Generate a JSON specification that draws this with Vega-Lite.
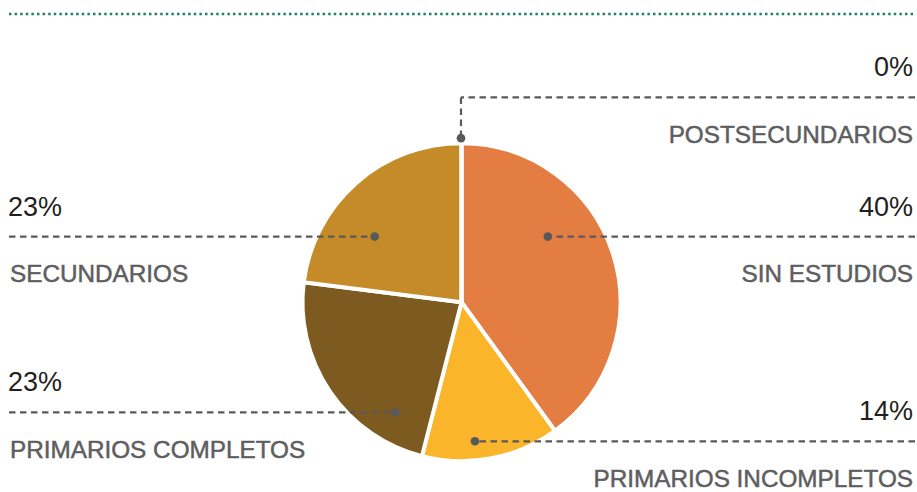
{
  "$schema": "https://vega.github.io/schema/vega-lite/v6.json",
  "width": 917,
  "height": 492,
  "autosize": {"type": "fit", "contains": "padding"},
  "padding": 0,
  "background": "white",
  "config": {
    "view": {"stroke": null},
    "axis": {"disable": true},
    "legend": {"disable": true},
    "text": {"font": "Liberation Sans"}
  },
  "datasets": {
    "slices": [
      {"categoria": "SIN ESTUDIOS", "pct": 40, "orden": 1},
      {"categoria": "PRIMARIOS INCOMPLETOS", "pct": 14, "orden": 2},
      {"categoria": "PRIMARIOS COMPLETOS", "pct": 23, "orden": 3},
      {"categoria": "SECUNDARIOS", "pct": 23, "orden": 4},
      {"categoria": "POSTSECUNDARIOS", "pct": 0, "orden": 5}
    ],
    "notes": [
      {"categoria": "SECUNDARIOS", "label": "23%", "side": "left", "edge": 9, "dotX": 375.5, "lineY": 238, "dotY": 238},
      {"categoria": "SIN ESTUDIOS", "label": "40%", "side": "right", "edge": 917, "dotX": 549, "lineY": 238, "dotY": 238},
      {"categoria": "PRIMARIOS COMPLETOS", "label": "23%", "side": "left", "edge": 9, "dotX": 396, "lineY": 415, "dotY": 415},
      {"categoria": "PRIMARIOS INCOMPLETOS", "label": "14%", "side": "right", "edge": 917, "dotX": 476, "lineY": 444, "dotY": 444},
      {"categoria": "POSTSECUNDARIOS", "label": "0%", "side": "right", "edge": 917, "dotX": 462, "lineY": 98, "dotY": 139}
    ]
  },
  "layer": [
    {
      "data": {"values": [{"desde": 9, "hasta": 917, "nivel": 14}]},
      "mark": {"type": "rule", "strokeDash": [2.5, 3.1], "strokeWidth": 2.5, "color": "#1E8068"},
      "encoding": {
        "x": {"field": "desde", "type": "quantitative", "scale": {"domain": [0, 917], "nice": false, "zero": false}},
        "x2": {"field": "hasta"},
        "y": {"field": "nivel", "type": "quantitative", "scale": {"domain": [0, 492], "nice": false, "zero": false, "reverse": true}}
      }
    },
    {
      "data": {"name": "slices"},
      "mark": {"type": "arc", "outerRadius": 159, "stroke": "white", "strokeWidth": 4},
      "encoding": {
        "x": {"datum": 462.5, "type": "quantitative"},
        "y": {"datum": 304, "type": "quantitative"},
        "theta": {"field": "pct", "type": "quantitative", "stack": true},
        "order": {"field": "orden", "type": "quantitative"},
        "color": {
          "field": "categoria",
          "type": "nominal",
          "scale": {
            "domain": ["SIN ESTUDIOS", "PRIMARIOS INCOMPLETOS", "PRIMARIOS COMPLETOS", "SECUNDARIOS", "POSTSECUNDARIOS"],
            "range": ["#E37D42", "#FBB52B", "#7D5A1F", "#C48B28", "#9C6B2B"]
          }
        }
      }
    },
    {
      "data": {"name": "notes"},
      "mark": {"type": "rule", "strokeDash": [6.5, 4.5], "strokeWidth": 2.2, "color": "#5A5A5C"},
      "encoding": {
        "x": {"field": "edge", "type": "quantitative"},
        "x2": {"field": "dotX"},
        "y": {"field": "lineY", "type": "quantitative"}
      }
    },
    {
      "data": {"name": "notes"},
      "transform": [{"filter": "datum.dotY != datum.lineY"}],
      "mark": {"type": "rule", "strokeDash": [6.5, 4.5], "strokeWidth": 2.2, "color": "#5A5A5C"},
      "encoding": {
        "x": {"field": "dotX", "type": "quantitative"},
        "y": {"field": "lineY", "type": "quantitative"},
        "y2": {"field": "dotY"}
      }
    },
    {
      "data": {"name": "notes"},
      "mark": {"type": "point", "filled": true, "size": 75, "opacity": 1, "color": "#58595B"},
      "encoding": {
        "x": {"field": "dotX", "type": "quantitative"},
        "y": {"field": "dotY", "type": "quantitative"}
      }
    },
    {
      "data": {"name": "notes"},
      "transform": [{"filter": "datum.side == 'left'"}],
      "mark": {"type": "text", "align": "left", "baseline": "alphabetic", "fontSize": 27, "dy": -21, "dx": -1, "color": "#231F20"},
      "encoding": {
        "x": {"field": "edge", "type": "quantitative"},
        "y": {"field": "lineY", "type": "quantitative"},
        "text": {"field": "label"}
      }
    },
    {
      "data": {"name": "notes"},
      "transform": [{"filter": "datum.side == 'right'"}],
      "mark": {"type": "text", "align": "right", "baseline": "alphabetic", "fontSize": 27, "dy": -21, "dx": -2, "color": "#231F20"},
      "encoding": {
        "x": {"field": "edge", "type": "quantitative"},
        "y": {"field": "lineY", "type": "quantitative"},
        "text": {"field": "label"}
      }
    },
    {
      "data": {"name": "notes"},
      "transform": [{"filter": "datum.side == 'left'"}],
      "mark": {"type": "text", "align": "left", "baseline": "alphabetic", "fontSize": 24.3, "dy": 45.5, "dx": 1, "color": "#5E5E60", "stroke": "#5E5E60", "strokeWidth": 0.5},
      "encoding": {
        "x": {"field": "edge", "type": "quantitative"},
        "y": {"field": "lineY", "type": "quantitative"},
        "text": {"field": "categoria"}
      }
    },
    {
      "data": {"name": "notes"},
      "transform": [{"filter": "datum.side == 'right'"}],
      "mark": {"type": "text", "align": "right", "baseline": "alphabetic", "fontSize": 24.3, "dy": 45.5, "dx": -2, "color": "#5E5E60", "stroke": "#5E5E60", "strokeWidth": 0.5},
      "encoding": {
        "x": {"field": "edge", "type": "quantitative"},
        "y": {"field": "lineY", "type": "quantitative"},
        "text": {"field": "categoria"}
      }
    }
  ]
}
